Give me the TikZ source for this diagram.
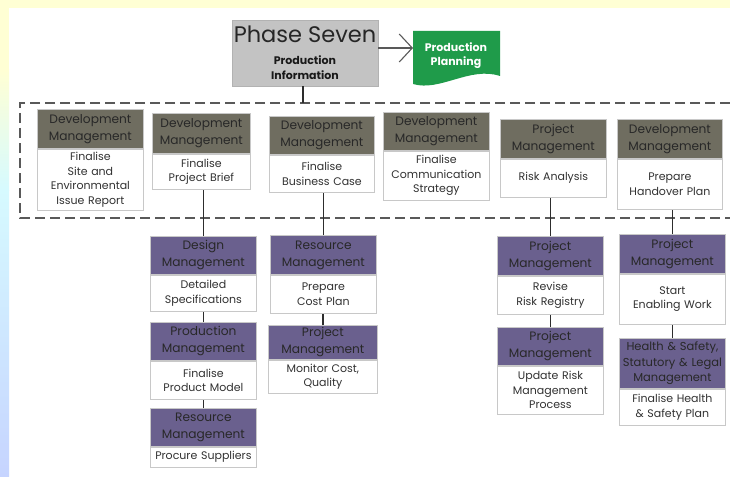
\documentclass[tikz,border=0pt]{standalone}
\usepackage{fontspec}
\setmainfont{Poppins}
\usetikzlibrary{arrows.meta}

\definecolor{stripyellow}{RGB}{255,255,212}
\definecolor{stripcyan}{RGB}{214,250,255}
\definecolor{stripblue}{RGB}{198,212,255}
\definecolor{devhead}{RGB}{111,109,96}
\definecolor{purphead}{RGB}{106,96,142}
\definecolor{headtext}{RGB}{40,40,40}
\definecolor{bodytext}{RGB}{50,50,50}
\definecolor{boxline}{RGB}{200,200,200}
\definecolor{phasegray}{RGB}{195,195,195}
\definecolor{plangreen}{RGB}{31,155,74}
\definecolor{linkgray}{RGB}{45,45,45}

% a two-part card: coloured header over a white body
% #1 name, #2 x, #3 y, #4 width, #5 header height, #6 body height,
% #7 header style, #8 header text, #9 body text
\newcommand\mkcard[9]{%
  \node[#7, text width=#4pt, minimum width=#4pt, minimum height=#5pt] (#1h) at (#2,#3) {#8};
  \node[cardbody, text width=#4pt, minimum width=#4pt, minimum height=#6pt] (#1b) at (#1h.south west) {#9};
}

\begin{document}
\begin{tikzpicture}[x=1pt,y=-1pt,
  cardhead/.style={draw=boxline, line width=0.8pt, anchor=north west, inner xsep=0pt, inner ysep=1pt,
    align=center, text=headtext, font=\fontsize{12.2}{17}\selectfont},
  devcard/.style={cardhead, fill=devhead},
  purpcard/.style={cardhead, fill=purphead},
  cardbody/.style={draw=boxline, line width=0.8pt, fill=white, anchor=north west, inner xsep=0pt, inner ysep=1pt,
    align=center, text=bodytext, font=\fontsize{11}{14.5}\selectfont},
  link/.style={draw=linkgray, line width=1.3pt},
  dashframe/.style={draw=black!65, line width=1.8pt, dash pattern=on 10pt off 5pt},
]
\useasboundingbox (0,0) rectangle (730,476);

% page background with its coloured edges
\fill[white] (0,0) rectangle (730,476);
\fill[stripyellow] (0,0) rectangle (730,8);
\fill[stripyellow] (0,0) rectangle (9,70);
\shade[top color=stripyellow, bottom color=stripcyan] (0,70) rectangle (9,190);
\shade[top color=stripcyan, bottom color=stripblue] (0,190) rectangle (9,476);

% phase heading
\node[draw=black!30, fill=phasegray, anchor=north west, minimum width=146pt, minimum height=66pt] (phase) at (232,20) {};
\node[text=black!85, font=\fontsize{22.5}{25}\selectfont] (ttl) at (305,34) {Phase Seven};
\node[align=center, text=black!90, font=\fontsize{11}{15}\bfseries\selectfont] (sub) at (305,68) {Production\\Information};

% next phase as a document shape
\fill[plangreen] (413,31) -- (500,31) -- (500,76) .. controls (470,66) and (440,92) .. (413,84) -- cycle;
\node[align=center, text=white, font=\fontsize{11}{14}\bfseries\selectfont] (plan) at (456,56) {Production\\Planning};
\coordinate (planin) at (413,48);
\draw[draw=black!65, line width=1.1pt, -{Straight Barb[length=13pt, width=28pt, line width=1.1pt]}] (phase.east |- planin) -- (planin);

% dashed group frame
\draw[dashframe] (730,103) -- (20,103) -- (20,218) -- (730,218);
\coordinate (frametop) at (303,103);
\draw[link] (phase.south -| frametop) -- (frametop);

% top row of cards
\mkcard{a}{37}{109}{106}{39}{61}{devcard}{Development\\Management}{Finalise\\Site and\\Environmental\\Issue Report}
\mkcard{b}{152}{113}{98}{40}{35}{devcard}{Development\\Management}{Finalise\\Project Brief}
\mkcard{c}{269}{116}{105}{38}{37}{devcard}{Development\\Management}{Finalise\\Business Case}
\mkcard{d}{383}{112}{106}{38}{49}{devcard}{Development\\Management}{Finalise\\Communication\\Strategy}
\mkcard{e}{500}{119}{106}{39}{38}{devcard}{Project\\Management}{Risk Analysis}
\mkcard{f}{617}{119}{105}{39}{50}{devcard}{Development\\Management}{Prepare\\Handover Plan}

% follow-on cards
\mkcard{g}{150}{236}{106}{38}{36}{purpcard}{Design\\Management}{Detailed\\Specifications}
\mkcard{h}{150}{322}{106}{38}{38}{purpcard}{Production\\Management}{Finalise\\Product Model}
\mkcard{i}{150}{408}{106}{38}{20}{purpcard}{Resource\\Management}{Procure Suppliers}
\mkcard{j}{270}{235}{106}{39}{38}{purpcard}{Resource\\Management}{Prepare\\Cost Plan}
\mkcard{k}{268}{325}{109}{34}{33}{purpcard}{Project\\Management}{Monitor Cost,\\Quality}
\mkcard{l}{497}{236}{106}{39}{38}{purpcard}{Project\\Management}{Revise\\Risk Registry}
\mkcard{m}{497}{327}{106}{38}{48}{purpcard}{Project\\Management}{Update Risk\\Management\\Process}
\mkcard{n}{619}{234}{106}{39}{50}{purpcard}{Project\\Management}{Start\\Enabling Work}
\mkcard{o}{619}{338}{106}{50}{36}{purpcard, font=\fontsize{11.5}{15.5}\selectfont}{Health \& Safety,\\Statutory \& Legal\\Management}{Finalise Health\\\& Safety Plan}

% connectors
\draw[link] (gh.north) -- (gh.north |- bb.south);
\draw[link] (hh.north) -- (hh.north |- gb.south);
\draw[link] (ih.north) -- (ih.north |- hb.south);
\draw[link] (jh.north) -- (jh.north |- cb.south);
\draw[link] (kh.north) -- (kh.north |- jb.south);
\draw[link] (lh.north) -- (lh.north |- eb.south);
\draw[link] (mh.north) -- (mh.north |- lb.south);
\draw[link] (nh.north) -- (nh.north |- fb.south);
\draw[link] (oh.north) -- (oh.north |- nb.south);
\end{tikzpicture}
\end{document}
